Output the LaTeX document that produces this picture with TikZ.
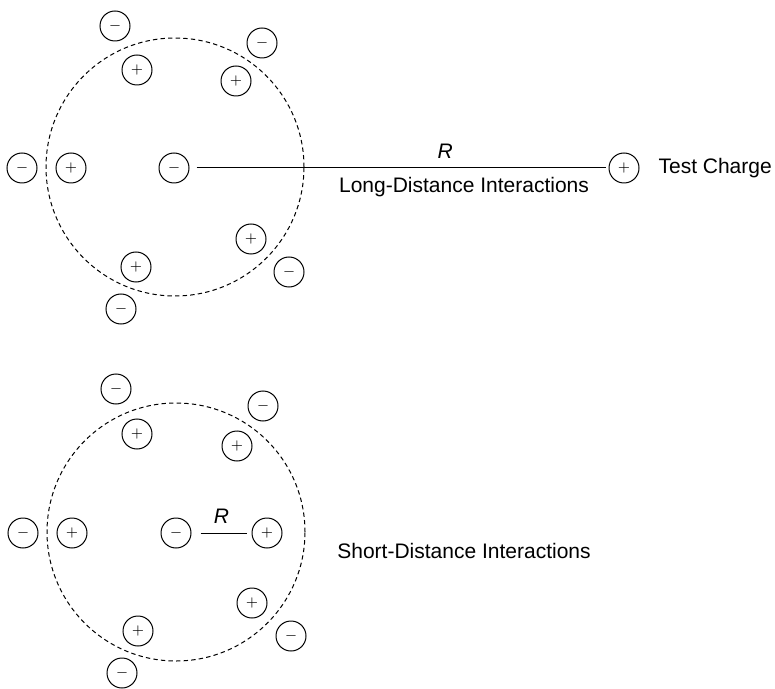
\documentclass[tikz,border=0pt]{standalone}
\usepackage{fontspec}
\setmainfont{Liberation Sans}
\usetikzlibrary{positioning}

\tikzset{
    charge/.style={circle, draw, line width=0.5pt, minimum size=15pt, inner sep=0pt,
        font=\fontsize{7.5}{8}\selectfont},
    shell/.style={line width=0.5pt, dash pattern=on 2.2pt off 1.6pt},
    bond/.style={line width=0.5pt}
}

\begin{document}
\begin{tikzpicture}[x=0.5pt, y=-0.5pt, font=\fontsize{10.5}{12}\selectfont]
    \useasboundingbox (0,0) rectangle (775,689);

    % Top cluster (long distance)
    \coordinate (tc) at (175,167);
    \draw[shell] (tc) circle[radius=64.5pt];

    \node[charge] (tn1) at (115,26) {$-$};
    \node[charge] (tp1) at (137,70) {$+$};
    \node[charge] (tn2) at (262,43) {$-$};
    \node[charge] (tp2) at (236,81) {$+$};
    \node[charge] (tn3) at (22,168) {$-$};
    \node[charge] (tp3) at (71,168) {$+$};
    \node[charge] (tq) at (174,168) {$-$};
    \node[charge] (tp4) at (251,239) {$+$};
    \node[charge] (tn4) at (289,272) {$-$};
    \node[charge] (tp5) at (136,267) {$+$};
    \node[charge] (tn5) at (121,309) {$-$};

    % Test charge far away
    \node[charge] (test) at (624,168) {$+$};
    \node[right=6pt of test] (testtxt) {Test Charge};

    \draw[bond, shorten <=3.5pt, shorten >=1.5pt] (tq) -- node[pos=0.61, above=1pt] (tR) {\textit{R}} (test);
    \node (longtxt) at (464,187) {Long-Distance Interactions};

    % Bottom cluster (short distance)
    \coordinate (bc) at (176,532);
    \draw[shell] (bc) circle[radius=64.5pt];

    \node[charge] (bn1) at (116,389) {$-$};
    \node[charge] (bp1) at (137,434) {$+$};
    \node[charge] (bn2) at (263,406) {$-$};
    \node[charge] (bp2) at (237,446) {$+$};
    \node[charge] (bn3) at (23,533) {$-$};
    \node[charge] (bp3) at (72,533) {$+$};
    \node[charge] (bq) at (176,533) {$-$};
    \node[charge] (bt) at (267,533) {$+$};
    \node[charge] (bp4) at (252,603) {$+$};
    \node[charge] (bn4) at (291,636) {$-$};
    \node[charge] (bp5) at (138,631) {$+$};
    \node[charge] (bn5) at (122,673) {$-$};

    \draw[bond, shorten <=4.5pt, shorten >=2.5pt] (bq) -- node[midway, above=1pt] (bR) {\textit{R}} (bt);
    \node (shorttxt) at (464,551) {Short-Distance Interactions};
\end{tikzpicture}
\end{document}
